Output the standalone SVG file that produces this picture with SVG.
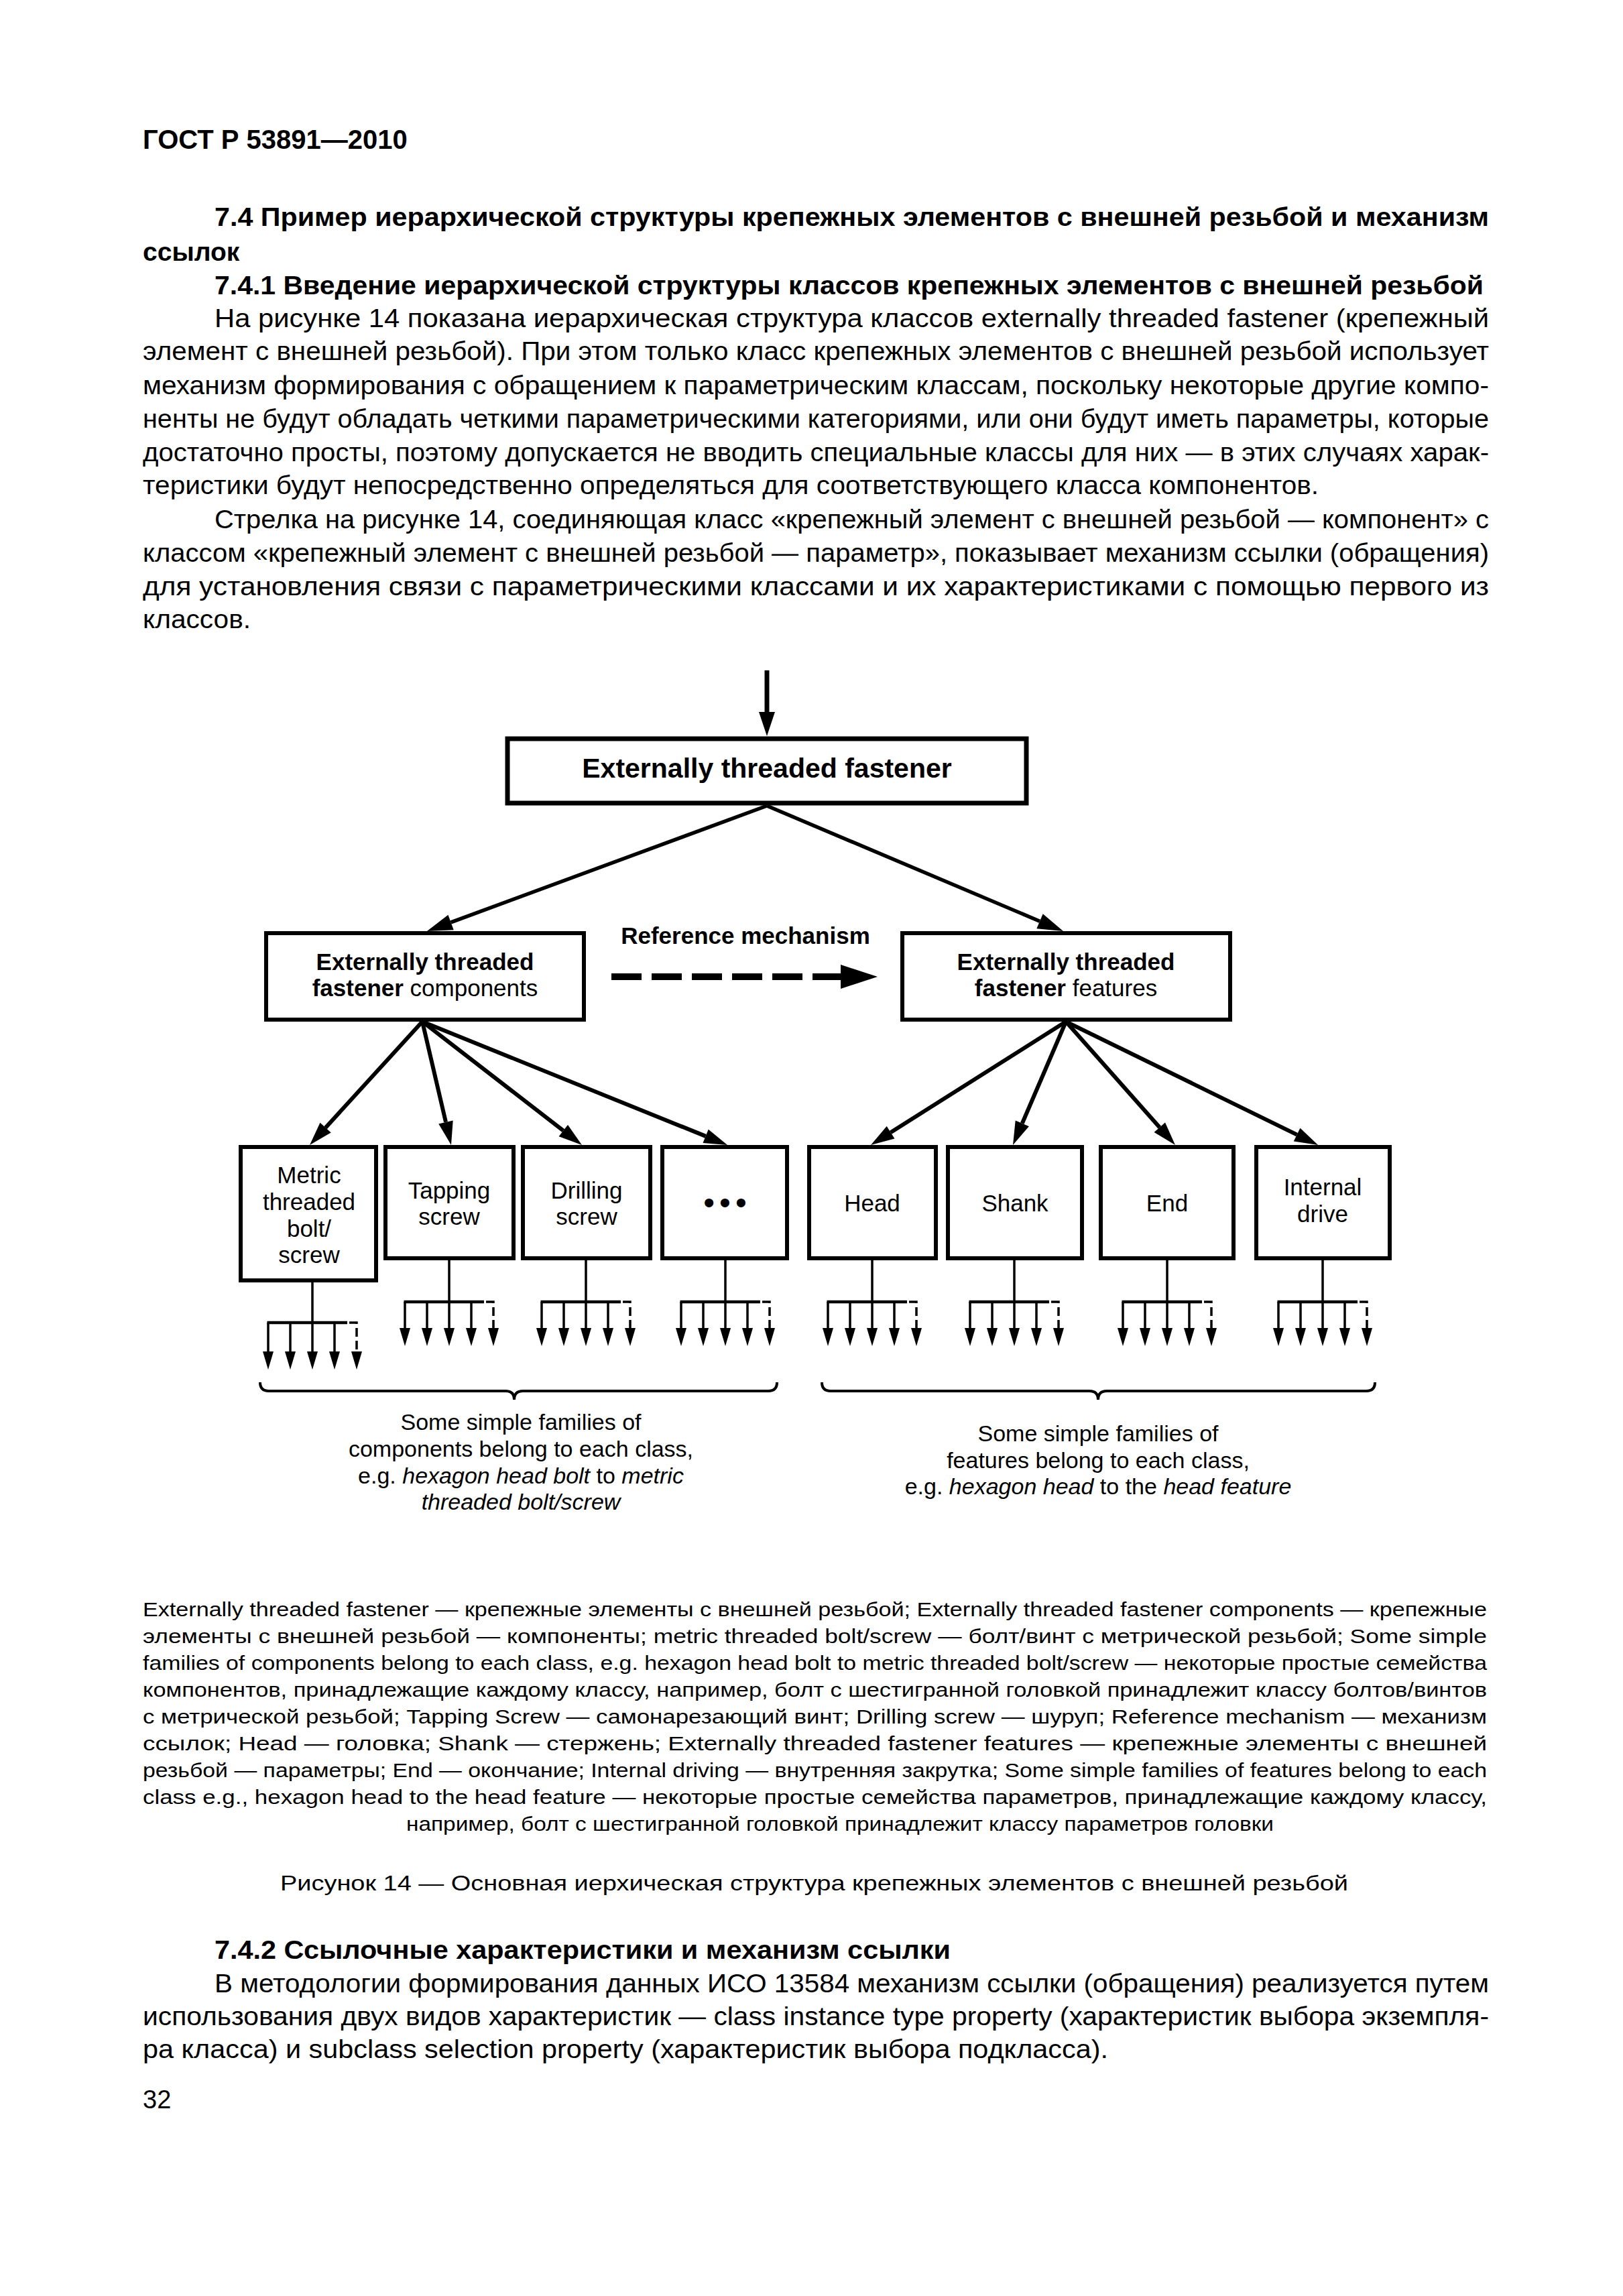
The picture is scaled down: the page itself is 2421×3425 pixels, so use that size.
<svg xmlns="http://www.w3.org/2000/svg" width="2421" height="3425" viewBox="0 0 2421 3425">
<style>
text { font-family: "Liberation Sans", Arial, "DejaVu Sans", sans-serif; fill: #000; }
.body { font-size: 38px; }
.hb { font-size: 39px; font-weight: bold; }
.leg { font-size: 30px; }
.cap { font-size: 32px; }
.box { fill: #fff; stroke: #000; stroke-width: 6; }
.lbl { font-size: 35px; text-anchor: middle; }
.bl { font-weight: bold; }
.it { font-style: italic; }
.fam { font-size: 34px; text-anchor: middle; }
.diag { fill: none; stroke: #000; stroke-width: 5.5; }
.fan { fill: none; stroke: #000; stroke-width: 6; }
.stem { fill: none; stroke: #000; stroke-width: 3.5; }
.bar { fill: none; stroke: #000; stroke-width: 4.5; }
.br { fill: none; stroke: #000; stroke-width: 3.5; }
.dsh { fill: none; stroke: #000; stroke-width: 3.5; stroke-dasharray: 13 6; }
.brace { fill: none; stroke: #000; stroke-width: 4; }
</style>
<defs>
<marker id="ahL" markerUnits="userSpaceOnUse" viewBox="0 -14 40 28" refX="0" refY="0" markerWidth="40" markerHeight="28" orient="auto" overflow="visible">
<path d="M0,-12 L38,0 L0,12 z" fill="#000"/>
</marker>
<marker id="ahM" markerUnits="userSpaceOnUse" viewBox="0 -13 37 26" refX="0" refY="0" markerWidth="37" markerHeight="26" orient="auto" overflow="visible">
<path d="M0,-11 L35,0 L0,11 z" fill="#000"/>
</marker>
<marker id="ahS" markerUnits="userSpaceOnUse" viewBox="0 -9 28 18" refX="0" refY="0" markerWidth="28" markerHeight="18" orient="auto" overflow="visible">
<path d="M0,-8 L27,0 L0,8 z" fill="#000"/>
</marker>
</defs>
<rect x="0" y="0" width="2421" height="3425" fill="#fff"/>

<g id="page-text">
<text x="213" y="222" style="font-size:40px;font-weight:bold">ГОСТ Р 53891—2010</text>
<text class="hb" x="320" y="337" textLength="1901" lengthAdjust="spacingAndGlyphs">7.4 Пример иерархической структуры крепежных элементов с внешней резьбой и механизм</text>
<text class="hb" x="213" y="389">ссылок</text>
<text class="hb" x="320" y="439" textLength="1893" lengthAdjust="spacingAndGlyphs">7.4.1 Введение иерархической структуры классов крепежных элементов с внешней резьбой</text>
<text class="body" x="320" y="488" textLength="1901" lengthAdjust="spacingAndGlyphs">На рисунке 14 показана иерархическая структура классов externally threaded fastener (крепежный</text>
<text class="body" x="213" y="537" textLength="2008" lengthAdjust="spacingAndGlyphs">элемент с внешней резьбой). При этом только класс крепежных элементов с внешней резьбой использует</text>
<text class="body" x="213" y="588" textLength="2008" lengthAdjust="spacingAndGlyphs">механизм формирования с обращением к параметрическим классам, поскольку некоторые другие компо-</text>
<text class="body" x="213" y="638" textLength="2008" lengthAdjust="spacingAndGlyphs">ненты не будут обладать четкими параметрическими категориями, или они будут иметь параметры, которые</text>
<text class="body" x="213" y="688" textLength="2008" lengthAdjust="spacingAndGlyphs">достаточно просты, поэтому допускается не вводить специальные классы для них — в этих случаях харак-</text>
<text class="body" x="213" y="737" textLength="1754" lengthAdjust="spacingAndGlyphs">теристики будут непосредственно определяться для соответствующего класса компонентов.</text>
<text class="body" x="320" y="788" textLength="1901" lengthAdjust="spacingAndGlyphs">Стрелка на рисунке 14, соединяющая класс «крепежный элемент с внешней резьбой — компонент» с</text>
<text class="body" x="213" y="838" textLength="2008" lengthAdjust="spacingAndGlyphs">классом «крепежный элемент с внешней резьбой — параметр», показывает механизм ссылки (обращения)</text>
<text class="body" x="213" y="888" textLength="2008" lengthAdjust="spacingAndGlyphs">для  установления связи с параметрическими классами и их характеристиками с помощью первого из</text>
<text class="body" x="213" y="937" textLength="161" lengthAdjust="spacingAndGlyphs">классов.</text>

<text class="leg" x="213" y="2411" textLength="2005" lengthAdjust="spacingAndGlyphs">Externally threaded fastener — крепежные элементы с внешней резьбой; Externally threaded fastener components — крепежные</text>
<text class="leg" x="213" y="2451" textLength="2005" lengthAdjust="spacingAndGlyphs">элементы с внешней резьбой — компоненты; metric threaded bolt/screw — болт/винт с метрической резьбой; Some simple</text>
<text class="leg" x="213" y="2491" textLength="2005" lengthAdjust="spacingAndGlyphs">families of components belong to each class, e.g. hexagon head bolt to metric threaded bolt/screw — некоторые простые семейства</text>
<text class="leg" x="213" y="2531" textLength="2005" lengthAdjust="spacingAndGlyphs">компонентов, принадлежащие каждому классу, например, болт с шестигранной головкой принадлежит классу болтов/винтов</text>
<text class="leg" x="213" y="2571" textLength="2005" lengthAdjust="spacingAndGlyphs">с метрической резьбой; Tapping Screw — самонарезающий винт; Drilling screw — шуруп; Reference mechanism — механизм</text>
<text class="leg" x="213" y="2611" textLength="2005" lengthAdjust="spacingAndGlyphs">ссылок;  Head — головка;  Shank — стержень; Externally  threaded  fastener  features  —  крепежные  элементы  с  внешней</text>
<text class="leg" x="213" y="2651" textLength="2005" lengthAdjust="spacingAndGlyphs">резьбой — параметры; End — окончание; Internal driving — внутренняя закрутка; Some simple families of features belong to each</text>
<text class="leg" x="213" y="2691" textLength="2005" lengthAdjust="spacingAndGlyphs">class e.g., hexagon head to the head feature — некоторые простые семейства параметров, принадлежащие каждому классу,</text>
<text class="leg" x="606" y="2731" textLength="1294" lengthAdjust="spacingAndGlyphs">например, болт с шестигранной головкой принадлежит классу параметров головки</text>

<text class="cap" x="418" y="2820" textLength="1593" lengthAdjust="spacingAndGlyphs">Рисунок 14 — Основная иерхическая структура крепежных элементов с внешней резьбой</text>

<text class="hb" x="320" y="2922" textLength="1098" lengthAdjust="spacingAndGlyphs">7.4.2 Ссылочные характеристики и механизм ссылки</text>
<text class="body" x="320" y="2972" textLength="1901" lengthAdjust="spacingAndGlyphs">В методологии формирования данных ИСО 13584 механизм ссылки (обращения) реализуется путем</text>
<text class="body" x="213" y="3021" textLength="2008" lengthAdjust="spacingAndGlyphs">использования двух видов характеристик — class instance type property (характеристик выбора экземпля-</text>
<text class="body" x="213" y="3070" textLength="1440" lengthAdjust="spacingAndGlyphs">ра класса) и subclass selection property (характеристик выбора подкласса).</text>
<text class="body" x="213" y="3145">32</text>
</g>

<g id="connectors">
<line x1="1144" y1="1000" x2="1144" y2="1062" stroke="#000" stroke-width="7"/>
<polygon points="1132,1062 1156,1062 1144,1098" fill="#000"/>
<line class="diag" x1="1144" y1="1202" x2="672.6" y2="1375.9" marker-end="url(#ahL)"/>
<line class="diag" x1="1144" y1="1202" x2="1551.0" y2="1374.2" marker-end="url(#ahL)"/>
<line x1="912" y1="1457" x2="1254" y2="1457" stroke="#000" stroke-width="10" stroke-dasharray="45 15"/>
<polygon points="1254,1439 1309,1457 1254,1475" fill="#000"/>
<line class="fan" x1="630" y1="1524" x2="485.6" y2="1682.2" marker-end="url(#ahM)"/>
<line class="fan" x1="630" y1="1524" x2="665.0" y2="1673.9" marker-end="url(#ahM)"/>
<line class="fan" x1="630" y1="1524" x2="840.3" y2="1686.6" marker-end="url(#ahM)"/>
<line class="fan" x1="630" y1="1524" x2="1052.6" y2="1694.9" marker-end="url(#ahM)"/>
<line class="fan" x1="1590" y1="1524" x2="1328.6" y2="1689.3" marker-end="url(#ahM)"/>
<line class="fan" x1="1590" y1="1524" x2="1524.8" y2="1675.8" marker-end="url(#ahM)"/>
<line class="fan" x1="1590" y1="1524" x2="1729.8" y2="1681.8" marker-end="url(#ahM)"/>
<line class="fan" x1="1590" y1="1524" x2="1934.6" y2="1692.6" marker-end="url(#ahM)"/>

<!-- Metric families -->
<path class="stem" d="M466,1913 V1973"/>
<path class="bar" d="M398.5,1973 H518"/>
<path class="br" d="M400,1973 V2016" marker-end="url(#ahS)"/>
<path class="br" d="M433,1973 V2016" marker-end="url(#ahS)"/>
<path class="br" d="M466,1973 V2016" marker-end="url(#ahS)"/>
<path class="br" d="M499,1973 V2016" marker-end="url(#ahS)"/>
<path class="dsh" d="M521,1973 H532 V2016" marker-end="url(#ahS)"/>

<!-- Tapping families -->
<path class="stem" d="M670,1880 V1942"/>
<path class="bar" d="M602.5,1942 H722"/>
<path class="br" d="M604,1942 V1981" marker-end="url(#ahS)"/>
<path class="br" d="M637,1942 V1981" marker-end="url(#ahS)"/>
<path class="br" d="M670,1942 V1981" marker-end="url(#ahS)"/>
<path class="br" d="M703,1942 V1981" marker-end="url(#ahS)"/>
<path class="dsh" d="M725,1942 H736 V1981" marker-end="url(#ahS)"/>

<!-- Drilling families -->
<path class="stem" d="M874,1880 V1942"/>
<path class="bar" d="M806.5,1942 H926"/>
<path class="br" d="M808,1942 V1981" marker-end="url(#ahS)"/>
<path class="br" d="M841,1942 V1981" marker-end="url(#ahS)"/>
<path class="br" d="M874,1942 V1981" marker-end="url(#ahS)"/>
<path class="br" d="M907,1942 V1981" marker-end="url(#ahS)"/>
<path class="dsh" d="M929,1942 H940 V1981" marker-end="url(#ahS)"/>

<!-- Dots families -->
<path class="stem" d="M1082,1880 V1942"/>
<path class="bar" d="M1014.5,1942 H1134"/>
<path class="br" d="M1016,1942 V1981" marker-end="url(#ahS)"/>
<path class="br" d="M1049,1942 V1981" marker-end="url(#ahS)"/>
<path class="br" d="M1082,1942 V1981" marker-end="url(#ahS)"/>
<path class="br" d="M1115,1942 V1981" marker-end="url(#ahS)"/>
<path class="dsh" d="M1137,1942 H1148 V1981" marker-end="url(#ahS)"/>

<!-- Head families -->
<path class="stem" d="M1301,1880 V1942"/>
<path class="bar" d="M1233.5,1942 H1353"/>
<path class="br" d="M1235,1942 V1981" marker-end="url(#ahS)"/>
<path class="br" d="M1268,1942 V1981" marker-end="url(#ahS)"/>
<path class="br" d="M1301,1942 V1981" marker-end="url(#ahS)"/>
<path class="br" d="M1334,1942 V1981" marker-end="url(#ahS)"/>
<path class="dsh" d="M1356,1942 H1367 V1981" marker-end="url(#ahS)"/>

<!-- Shank families -->
<path class="stem" d="M1513,1880 V1942"/>
<path class="bar" d="M1445.5,1942 H1565"/>
<path class="br" d="M1447,1942 V1981" marker-end="url(#ahS)"/>
<path class="br" d="M1480,1942 V1981" marker-end="url(#ahS)"/>
<path class="br" d="M1513,1942 V1981" marker-end="url(#ahS)"/>
<path class="br" d="M1546,1942 V1981" marker-end="url(#ahS)"/>
<path class="dsh" d="M1568,1942 H1579 V1981" marker-end="url(#ahS)"/>

<!-- End families -->
<path class="stem" d="M1741,1880 V1942"/>
<path class="bar" d="M1673.5,1942 H1793"/>
<path class="br" d="M1675,1942 V1981" marker-end="url(#ahS)"/>
<path class="br" d="M1708,1942 V1981" marker-end="url(#ahS)"/>
<path class="br" d="M1741,1942 V1981" marker-end="url(#ahS)"/>
<path class="br" d="M1774,1942 V1981" marker-end="url(#ahS)"/>
<path class="dsh" d="M1796,1942 H1807 V1981" marker-end="url(#ahS)"/>

<!-- Internal drive families -->
<path class="stem" d="M1973,1880 V1942"/>
<path class="bar" d="M1905.5,1942 H2025"/>
<path class="br" d="M1907,1942 V1981" marker-end="url(#ahS)"/>
<path class="br" d="M1940,1942 V1981" marker-end="url(#ahS)"/>
<path class="br" d="M1973,1942 V1981" marker-end="url(#ahS)"/>
<path class="br" d="M2006,1942 V1981" marker-end="url(#ahS)"/>
<path class="dsh" d="M2028,1942 H2039 V1981" marker-end="url(#ahS)"/>

<path class="brace" d="M388,2062 Q388,2075 401,2075 H754 Q767,2075 767,2088 Q767,2075 780,2075 H1146 Q1159,2075 1159,2062"/>
<path class="brace" d="M1226,2062 Q1226,2075 1239,2075 H1625 Q1638,2075 1638,2088 Q1638,2075 1651,2075 H2038 Q2051,2075 2051,2062"/>
</g>

<g id="node-fastener">
<rect x="757" y="1102" width="774" height="96" fill="#fff" stroke="#000" stroke-width="7"/>
<text x="1144" y="1160" text-anchor="middle" style="font-size:41px;font-weight:bold">Externally threaded fastener</text>
</g>

<g id="node-reference-label">
<text x="1112" y="1408" text-anchor="middle" style="font-size:35px;font-weight:bold">Reference mechanism</text>
</g>

<g id="node-components">
<rect class="box" x="397" y="1392" width="474" height="129"/>
<text class="lbl bl" x="634" y="1447">Externally threaded</text>
<text class="lbl" x="634" y="1486"><tspan class="bl">fastener</tspan> components</text>
</g>

<g id="node-features">
<rect class="box" x="1346" y="1392" width="489" height="129"/>
<text class="lbl bl" x="1590" y="1447">Externally threaded</text>
<text class="lbl" x="1590" y="1486"><tspan class="bl">fastener</tspan> features</text>
</g>

<g id="node-metric">
<rect class="box" x="359" y="1711" width="202" height="199"/>
<text class="lbl" x="461" y="1765">Metric</text>
<text class="lbl" x="461" y="1805">threaded</text>
<text class="lbl" x="461" y="1845">bolt/</text>
<text class="lbl" x="461" y="1884">screw</text>
</g>

<g id="node-tapping">
<rect class="box" x="575" y="1711" width="191" height="166"/>
<text class="lbl" x="670" y="1788">Tapping</text>
<text class="lbl" x="670" y="1827">screw</text>
</g>

<g id="node-drilling">
<rect class="box" x="780" y="1711" width="190" height="166"/>
<text class="lbl" x="875" y="1788">Drilling</text>
<text class="lbl" x="875" y="1827">screw</text>
</g>

<g id="node-more">
<rect class="box" x="988" y="1711" width="186" height="166"/>
<text x="1085" y="1810" text-anchor="middle" style="font-size:48px;letter-spacing:7px">•••</text>
</g>

<g id="node-head">
<rect class="box" x="1207" y="1711" width="189" height="166"/>
<text class="lbl" x="1301" y="1807">Head</text>
</g>

<g id="node-shank">
<rect class="box" x="1414" y="1711" width="200" height="166"/>
<text class="lbl" x="1514" y="1807">Shank</text>
</g>

<g id="node-end">
<rect class="box" x="1642" y="1711" width="198" height="166"/>
<text class="lbl" x="1741" y="1807">End</text>
</g>

<g id="node-internal">
<rect class="box" x="1874" y="1711" width="199" height="166"/>
<text class="lbl" x="1973" y="1783">Internal</text>
<text class="lbl" x="1973" y="1823">drive</text>
</g>

<g id="node-families-components">
<text class="fam" x="777" y="2133">Some simple families of</text>
<text class="fam" x="777" y="2173">components belong to each class,</text>
<text class="fam" x="777" y="2213">e.g. <tspan class="it">hexagon head bolt</tspan> to <tspan class="it">metric</tspan></text>
<text class="fam it" x="777" y="2252">threaded bolt/screw</text>
</g>

<g id="node-families-features">
<text class="fam" x="1638" y="2150">Some simple families of</text>
<text class="fam" x="1638" y="2190">features belong to each class,</text>
<text class="fam" x="1638" y="2229">e.g. <tspan class="it">hexagon head</tspan> to the <tspan class="it">head feature</tspan></text>
</g>
</svg>
